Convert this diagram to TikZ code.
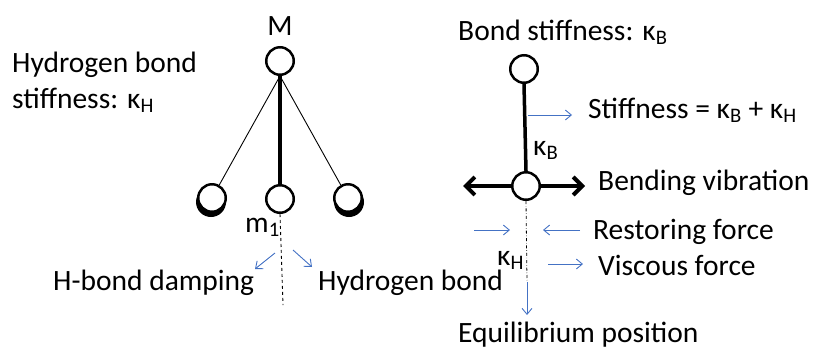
\documentclass[tikz,border=0pt]{standalone}
\usepackage{fontspec}
\setmainfont{Carlito}
\usetikzlibrary{arrows.meta}
\definecolor{arrowblue}{RGB}{68,114,196}
\begin{document}
\begin{tikzpicture}[x=1pt,y=-1pt,
  txt/.style={inner sep=0pt, font=\fontsize{29.5}{34}\selectfont, anchor=base west},
  ball/.style={circle, draw=black, line width=2.5pt, fill=white, minimum size=27.5pt, inner sep=0pt},
  bluearrow/.style={draw=arrowblue, line width=0.9pt, -{Straight Barb[length=6pt,width=10pt]}},
  thinbond/.style={line width=0.9pt},
  thickbond/.style={line width=3.5pt},
  bendarrow/.style={line width=4pt, {Straight Barb[length=9pt,width=18pt]}-{Straight Barb[length=9pt,width=18pt]}}]
\useasboundingbox (0,0) rectangle (816,349);

% ---------- left pendulum ----------
\fill[black] (211,202) circle (15pt);
\fill[black] (349,202) circle (15pt);
\node[ball] (M) at (280,61) {};
\node[ball] (b1) at (212,198) {};
\node[ball] (b2) at (280,199) {};
\node[ball] (b3) at (348,198) {};
\draw[thinbond] (M.south) -- (b1);
\draw[thinbond] (M.south) -- (b3);
\draw[thickbond] (M.south) -- (b2.north);
\coordinate (dl) at (283,305);
\draw[dashed, line width=0.9pt] (b2.south) -- (dl);

\node[txt, anchor=base] (Mlab) at (280,35) {M};
\node[txt] (hb1) at (12,72) {Hydrogen bond};
\node[txt] (hb2) at (12,108) {stiffness: κ\textsubscript{H}};
\node[txt] (m1) at (245,232) {m\textsubscript{1}};
\node[txt] (damp) at (53,290) {H-bond damping};
\node[txt] (hbond) at (318,290) {Hydrogen bond};

\coordinate (a1s) at (275,253); \coordinate (a1e) at (255,269);
\coordinate (a2s) at (293,250); \coordinate (a2e) at (312,267);
\draw[bluearrow] (a1s) -- (a1e);
\draw[bluearrow] (a2s) -- (a2e);

% ---------- right pendulum ----------
\coordinate (bl) at (463,186);
\coordinate (br) at (585,186);
\draw[bendarrow] (bl) -- (br);
\node[ball] (T) at (524,69) {};
\node[ball] (B) at (526,186) {};
\draw[thickbond] (T.south) -- (B.north);
\coordinate (eq1) at (527,282);
\coordinate (eq2) at (527,315);
\draw[dash dot, line width=0.8pt] (B.south) -- (eq1);
\draw[bluearrow] (eq1) -- (eq2);

\node[txt] (bs) at (458,40) {Bond stiffness: κ\textsubscript{B}};
\node[txt] (st) at (588,118) {Stiffness = κ\textsubscript{B} + κ\textsubscript{H}};
\node[txt] (kB) at (533,155) {κ\textsubscript{B}};
\node[txt] (bv) at (598,190) {Bending vibration};
\node[txt] (rf) at (593,239) {Restoring force};
\node[txt] (kH) at (497,265) {κ\textsubscript{H}};
\node[txt] (vf) at (598,275) {Viscous force};
\node[txt] (ep) at (458,342) {Equilibrium position};

\coordinate (s1) at (528,115); \coordinate (s2) at (572,115);
\draw[bluearrow] (s1) -- (s2);
\coordinate (r1) at (474,230); \coordinate (r2) at (510,230);
\draw[bluearrow] (r1) -- (r2);
\coordinate (r3) at (580,230); \coordinate (r4) at (543,230);
\draw[bluearrow] (r3) -- (r4);
\coordinate (v1) at (548,264); \coordinate (v2) at (583,264);
\draw[bluearrow] (v1) -- (v2);
\end{tikzpicture}
\end{document}
